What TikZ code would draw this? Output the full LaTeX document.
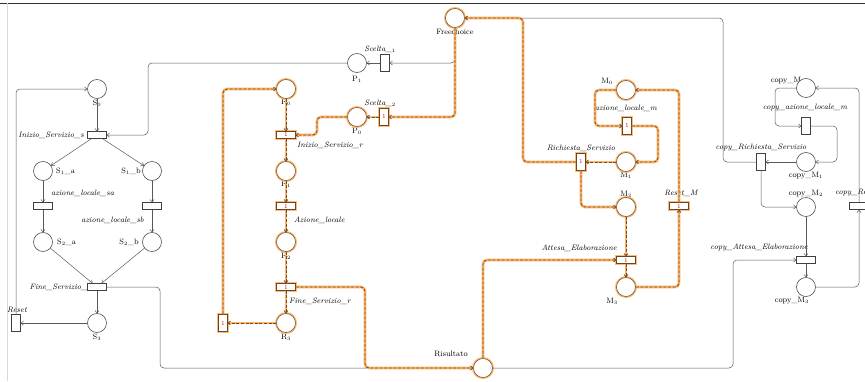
\documentclass[tikz,border=0pt]{standalone}
\usepackage{fontspec}
\usetikzlibrary{arrows.meta}
\newcommand\lblfont{\fontsize{7.8}{9}\selectfont}
\newcommand\tokfont{\fontsize{6}{6}\selectfont\color{red!80!black}}
\begin{document}
\begin{tikzpicture}[x=1pt,y=-1pt,
 place/.style={circle, draw=black!75, fill=white, line width=0.55pt, minimum size=19pt, inner sep=0pt},
 glow/.style={preaction={draw=orange!55, line width=3pt}},
 hplace/.style={place, draw=brown!55!black, glow},
 trans/.style={rectangle, draw=black!75, fill=white, line width=0.55pt, inner sep=0pt},
 htr/.style={trans, minimum width=19pt, minimum height=7pt},
 vtr/.style={trans, minimum width=9pt, minimum height=17pt},
 hhtr/.style={htr, draw=brown!55!black, glow, font=\tokfont},
 hvtr/.style={vtr, draw=brown!55!black, glow, font=\tokfont},
 lbl/.style={inner sep=0pt, font=\lblfont},
 tl/.style={inner sep=0pt, font=\lblfont\itshape},
 arc/.style={draw=black!65, line width=0.5pt, -{To[length=3pt,width=4.5pt]}, rounded corners=4pt},
 harc/.style={arc, draw=brown!60!black, line width=0.8pt, dash pattern=on 3pt off 1.6pt,
   preaction={draw=orange!60, line width=2.6pt, solid, arrows=-}}
]
\clip (0,0) rectangle (865,381);
\useasboundingbox (0,0) rectangle (865,381);
\fill[white] (0,0) rectangle (865,381);
\draw[black!80, line width=0.8pt] (0,3) -- (865,3);
\draw[black!15, line width=0.5pt] (7,3) -- (7,381);

% labels
\node[lbl] (lS0) at (97,103) {S$_0$};
\node[tl, anchor=east] (lIniS) at (84,135) {Inizio\_Servizio\_s};
\node[lbl, anchor=west] (lS1a) at (56,171) {S$_1$\_a};
\node[lbl, anchor=east] (lS1b) at (141,171) {S$_1$\_b};
\node[tl, anchor=west] (lazsa) at (51,193) {azione\_locale\_sa};
\node[tl, anchor=east] (lazsb) at (144,220) {azione\_locale\_sb};
\node[lbl, anchor=west] (lS2a) at (57,242) {S$_2$\_a};
\node[lbl, anchor=east] (lS2b) at (139,242) {S$_2$\_b};
\node[tl, anchor=east] (lFinS) at (91,287) {Fine\_Servizio\_s};
\node[lbl] (lS3) at (97,337) {S$_3$};
\node[tl] (lReset) at (17,310) {Reset};
\node[lbl] (lF) at (455,32) {Freechoice};
\node[lbl] (lP1) at (357,79) {P$_1$};
\node[tl] (lSc1) at (380,49) {Scelta\_$_1$};
\node[tl] (lSc2) at (380,103) {Scelta\_$_2$};
\node[lbl] (lP0) at (357,131) {P$_0$};
\node[lbl] (lR0) at (286,102) {R$_0$};
\node[tl, anchor=west] (lIniR) at (297,145) {Inizio\_Servizio\_r};
\node[lbl] (lR1) at (286,184) {R$_1$};
\node[tl, anchor=west] (lAzL) at (294,220) {Azione\_locale};
\node[lbl] (lR2) at (286,256) {R$_2$};
\node[tl, anchor=west] (lFinR) at (289,301) {Fine\_Servizio\_r};
\node[lbl] (lR3) at (286,337) {R$_3$};
\node[lbl] (lRis) at (451,354) {Risultato};
\node[lbl] (lM0) at (607,81) {M$_0$};
\node[tl] (lazm) at (626,108) {azione\_locale\_m};
\node[lbl] (lM1) at (626,175) {M$_1$};
\node[tl] (lRich) at (581,148) {Richiesta\_Servizio};
\node[lbl] (lM2) at (626,194) {M$_2$};
\node[tl, anchor=east] (lAtt) at (617,248) {Attesa\_Elaborazione};
\node[lbl] (lM3) at (612,301) {M$_3$};
\node[tl] (lResM) at (681,193) {Reset\_M};
\node[lbl] (lcM0) at (788,81) {copy\_M$_0$};
\node[tl] (lcaz) at (805,108) {copy\_azione\_locale\_m};
\node[lbl] (lcM1) at (806,176) {copy\_M$_1$};
\node[tl] (lcRich) at (761,148) {copy\_Richiesta\_Servizio};
\node[lbl] (lcM2) at (806,194) {copy\_M$_2$};
\node[tl, anchor=east] (lcAtt) at (808,248) {copy\_Attesa\_Elaborazione};
\node[lbl] (lcM3) at (792,301) {copy\_M$_3$};
\node[tl, anchor=west] (lcRes) at (835,193) {copy\_Reset\_M};

% nodes
\node[hplace] (F) at (455,18) {};
\node[place] (P1) at (357,63) {};
\node[vtr] (Sc1) at (385,63) {};
\node[hplace] (P0) at (357,117) {};
\node[hvtr] (Sc2) at (384,117) {1};
\node[place] (S0) at (97,89) {};
\node[htr] (IniS) at (97,135) {};
\node[place] (S1a) at (43,171) {};
\node[place] (S1b) at (152,171) {};
\node[htr] (azsa) at (43,206) {};
\node[htr] (azsb) at (152,206) {};
\node[place] (S2a) at (43,242) {};
\node[place] (S2b) at (152,242) {};
\node[htr] (FinS) at (97,287) {};
\node[place] (S3) at (97,323) {};
\node[vtr] (Reset) at (16,323) {};
\node[hplace] (R0) at (286,89) {};
\node[hhtr] (IniR) at (286,135) {1};
\node[hplace] (R1) at (286,171) {};
\node[hhtr] (AzL) at (286,206) {1};
\node[hplace] (R2) at (286,242) {};
\node[hhtr] (FinR) at (286,287) {1};
\node[hplace] (R3) at (286,323) {};
\node[hvtr] (ResR) at (223,323) {1};
\node[hplace] (Ris) at (483,368) {};
\node[hplace] (M0) at (626,90) {};
\node[hvtr] (azm) at (627,126) {1};
\node[hplace] (M1) at (626,162) {};
\node[hvtr] (Rich) at (581,162) {1};
\node[hplace] (M2) at (626,207) {};
\node[hhtr] (Att) at (626,260) {1};
\node[hplace] (M3) at (626,287) {};
\node[hhtr] (ResM) at (679,206) {1};
\node[place] (cM0) at (806,88) {};
\node[vtr] (caz) at (806,126) {};
\node[place] (cM1) at (806,162) {};
\node[vtr] (cRich) at (761,162) {};
\node[place] (cM2) at (806,207) {};
\node[htr] (cAtt) at (806,260) {};
\node[place] (cM3) at (806,287) {};
\node[htr] (cRes) at (859,206) {};

% plain arcs
\draw[arc] (Reset) |- (S0);
\draw[arc] (S3) -- (Reset);
\draw[arc] (S0) -- (IniS);
\draw[arc] (IniS) -- (S1a);
\draw[arc] (IniS) -- (S1b);
\draw[arc] (S1a) -- (azsa);
\draw[arc] (S1b) -- (azsb);
\draw[arc] (azsa) -- (S2a);
\draw[arc] (azsb) -- (S2b);
\draw[arc] (S2a) -- (FinS);
\draw[arc] (S2b) -- (FinS);
\draw[arc] (FinS) -- (S3);
\draw[arc] (FinS) -- (160,287) |- (Ris);
\draw[arc] (P1) -- (148,63) |- (IniS);
\draw[arc] (F) |- (Sc1);
\draw[arc] (Sc1) -- (P1);
\draw[arc] (Ris) -- (733,368) |- (cAtt);
\draw[arc] (cRich) -- (723,162) |- (F);
\draw[arc] (cM0) -- (775,88) |- (caz);
\draw[arc] (caz) -- (837,126) |- (cM1);
\draw[arc] (cM1) -- (cRich);
\draw[arc] (cRich) |- (cM2);
\draw[arc] (cM2) -- (cAtt);
\draw[arc] (cAtt) -- (cM3);
\draw[arc] (cM3) -| (cRes);
\draw[arc] (cRes) |- (cM0);

% highlighted arcs
\draw[harc] (F) |- (Sc2);
\draw[harc] (Sc2) -- (P0);
\draw[harc] (P0) -- (317,117) |- (IniR);
\draw[harc] (R0) -- (IniR);
\draw[harc] (IniR) -- (R1);
\draw[harc] (R1) -- (AzL);
\draw[harc] (AzL) -- (R2);
\draw[harc] (R2) -- (FinR);
\draw[harc] (FinR) -- (R3);
\draw[harc] (R3) -- (ResR);
\draw[harc] (ResR) |- (R0);
\draw[harc] (FinR) -- (365,287) |- (Ris);
\draw[harc] (Ris) |- (Att);
\draw[harc] (M0) -- (595,90) |- (azm);
\draw[harc] (azm) -- (658,126) |- (M1);
\draw[harc] (M1) -- (Rich);
\draw[harc] (Rich) -- (523,162) |- (F);
\draw[harc] (Rich) |- (M2);
\draw[harc] (M2) -- (Att);
\draw[harc] (Att) -- (M3);
\draw[harc] (M3) -| (ResM);
\draw[harc] (ResM) |- (M0);
\end{tikzpicture}
\end{document}
